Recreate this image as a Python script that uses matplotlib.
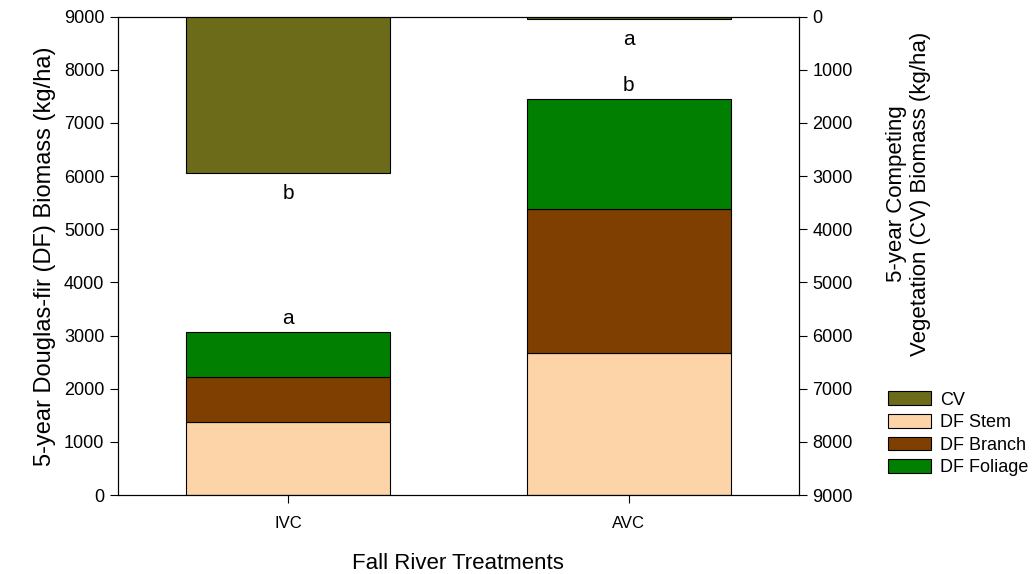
import numpy as np
import matplotlib.pyplot as plt

plt.rcParams['font.family'] = ['Liberation Sans', 'DejaVu Sans']

treatments = ['IVC', 'AVC']
df_stem = [1380, 2678]
df_branch = [834, 2708]
df_foliage = [848, 2066]
cv = [2947, 50]
df_letters = ['a', 'b']
cv_letters = ['b', 'a']

c_cv = '#6b6b19'
c_stem = '#fcd4a8'
c_branch = '#7f3f00'
c_foliage = '#007f00'

x = np.arange(len(treatments))
w = 0.6

fig = plt.figure(figsize=(10.36, 5.74), dpi=100)
ax = fig.add_axes([0.1136, 0.1376, 0.6577, 0.8333])

stem = np.array(df_stem)
branch = np.array(df_branch)
foliage = np.array(df_foliage)

b1 = ax.bar(x, stem, w, color=c_stem, edgecolor='black', linewidth=0.8)
b2 = ax.bar(x, branch, w, bottom=stem, color=c_branch, edgecolor='black', linewidth=0.8)
b3 = ax.bar(x, foliage, w, bottom=stem + branch, color=c_foliage, edgecolor='black', linewidth=0.8)

ax.set_xlim(-0.5, 1.5)
ax.set_ylim(0, 9000)
ax.set_yticks(np.arange(0, 9001, 1000))
ax.set_xticks(x)
ax.set_xticklabels(treatments)
ax.tick_params(direction='out', labelsize=13, length=6)
ax.tick_params(axis='x', labelsize=12, pad=9)
ax.set_ylabel('5-year Douglas-fir (DF) Biomass (kg/ha)', fontsize=17, labelpad=6)
ax.set_xlabel('Fall River Treatments', fontsize=16, labelpad=16)

tops = stem + branch + foliage
for xi, t, lab in zip(x, tops, df_letters):
    ax.annotate(lab, (xi, t), xytext=(0, 3), textcoords='offset points',
                ha='center', va='bottom', fontsize=15)

ax2 = ax.twinx()
b0 = ax2.bar(x, cv, w, color=c_cv, edgecolor='black', linewidth=0.8)
ax2.set_ylim(9000, 0)
ax2.set_yticks(np.arange(0, 9001, 1000))
ax2.tick_params(direction='out', labelsize=13, length=6)
ax2.set_ylabel('5-year Competing\nVegetation (CV) Biomass (kg/ha)', fontsize=16)
ax2.yaxis.set_label_coords(1.127, 0.63)
for xi, c, lab in zip(x, cv, cv_letters):
    ax2.annotate(lab, (xi, c), xytext=(0, -8), textcoords='offset points',
                 ha='center', va='top', fontsize=15)

fig.legend([b0, b1, b2, b3], ['CV', 'DF Stem', 'DF Branch', 'DF Foliage'],
           loc='upper left', bbox_to_anchor=(0.857, 0.318), frameon=False,
           fontsize=13, handlelength=2.4, handleheight=0.8, borderpad=0,
           labelspacing=0.3, borderaxespad=0, handletextpad=0.5)

fig.savefig('out.png', dpi=100)
